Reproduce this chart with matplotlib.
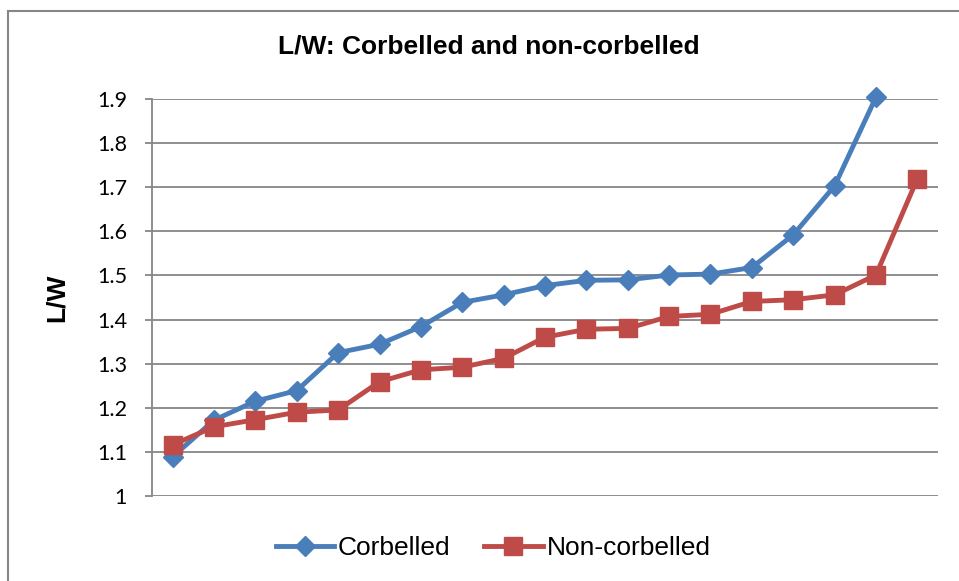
import matplotlib
matplotlib.use('Agg')
import matplotlib.pyplot as plt
from matplotlib.patches import Rectangle

# valores (L/W ordenado)
corbelled = [1.089, 1.172, 1.215, 1.239, 1.325, 1.344, 1.384, 1.439, 1.456,
             1.477, 1.489, 1.490, 1.501, 1.503, 1.518, 1.592, 1.703, 1.904]
non_corbelled = [1.116, 1.157, 1.173, 1.190, 1.195, 1.259, 1.286, 1.292, 1.312,
                 1.360, 1.378, 1.380, 1.407, 1.412, 1.441, 1.445, 1.456, 1.501, 1.719]
y_ticks = [1, 1.1, 1.2, 1.3, 1.4, 1.5, 1.6, 1.7, 1.8, 1.9]
y_labels = ['1', '1.1', '1.2', '1.3', '1.4', '1.5', '1.6', '1.7', '1.8', '1.9']

plt.rcParams['font.family'] = ['Liberation Sans', 'DejaVu Sans']

fig = plt.figure(figsize=(9.59, 5.81), dpi=100)
ax = fig.add_axes([152/959, 85/581, 786/959, 397/581])

blue = '#4A7EBB'
red = '#BE4B48'
n = len(non_corbelled)
ax.plot(range(1, len(corbelled) + 1), corbelled, color=blue, lw=3.5,
        marker='D', ms=10, label='Corbelled', zorder=3, clip_on=False)
ax.plot(range(1, n + 1), non_corbelled, color=red, lw=3.5,
        marker='s', ms=13, label='Non-corbelled', zorder=4, clip_on=False)

ax.set_xlim(0.5, n + 0.5)
ax.set_ylim(1, 1.9)
ax.set_yticks(y_ticks)
ax.set_yticklabels(y_labels, fontsize=15.5, family=['Lato', 'DejaVu Sans'])
ax.set_xticks([])
ax.grid(axis='y', color='#868686', lw=1.3)
ax.set_axisbelow(True)
for s in ['top', 'right', 'bottom']:
    ax.spines[s].set_visible(False)
ax.spines['left'].set_color('#868686')
ax.spines['left'].set_linewidth(1.3)
ax.tick_params(axis='y', length=5, width=1.3, color='#868686', pad=13)
ax.set_ylabel('L/W', fontsize=19, fontweight='bold', labelpad=20)

fig.text(489/959, 1 - 46/581, 'L/W: Corbelled and non-corbelled',
         ha='center', va='center', fontsize=19, fontweight='bold')

# borda da área do gráfico
fig.patches.append(Rectangle((8/959, -0.1), 1.1, 1 - 11/581 + 0.1,
                             transform=fig.transFigure, fill=False,
                             ec='#868686', lw=1.5))

fig.legend(loc='center', bbox_to_anchor=(493/959, 1 - 548/581), ncol=2,
           frameon=False, fontsize=19, handlelength=2.2, handletextpad=0.15,
           columnspacing=1.3)

fig.savefig('out.png', dpi=100)
